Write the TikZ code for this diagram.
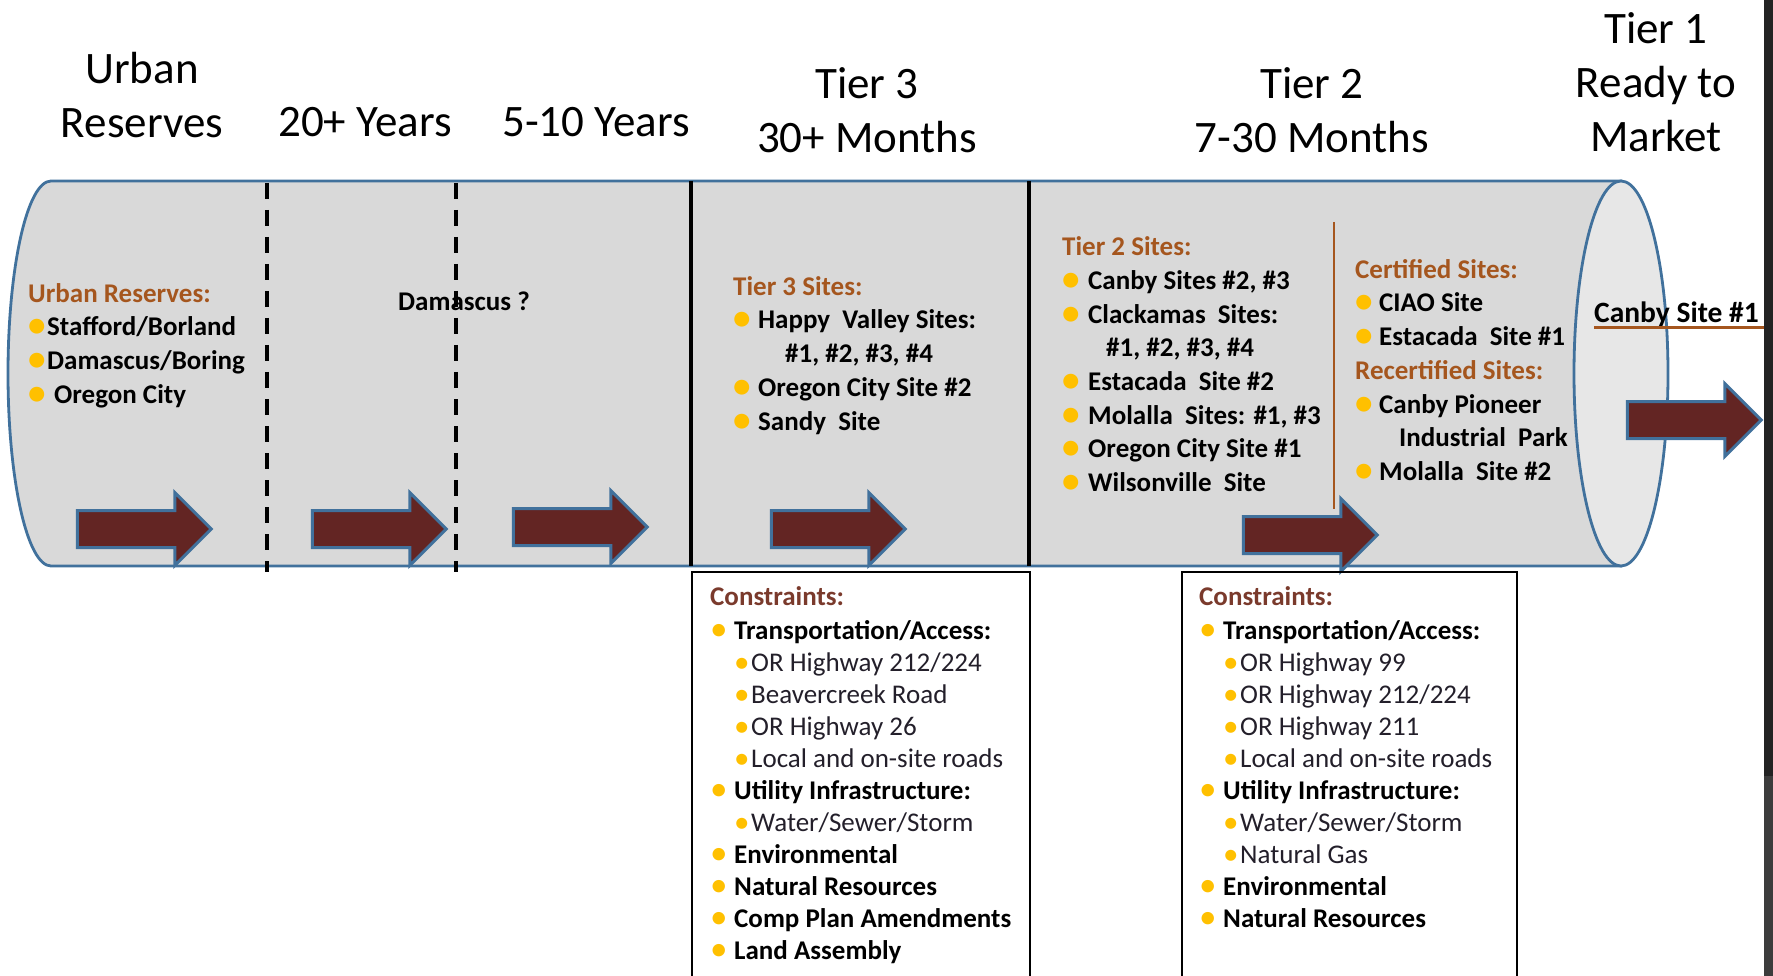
\documentclass[tikz,border=0pt]{standalone}
\usepackage{fontspec}
\usepackage{graphicx}
\setmainfont{Carlito}
\usetikzlibrary{shapes.arrows}
\usetikzlibrary{positioning}

\definecolor{cylfill}{HTML}{D9D9D9}
\definecolor{capfill}{HTML}{E7E7E7}
\definecolor{cylblue}{HTML}{41719C}
\definecolor{arrowred}{HTML}{632523}
\definecolor{headbrown}{HTML}{A5561E}
\definecolor{consbrown}{HTML}{7A3A2C}
\definecolor{dotgold}{HTML}{FFC000}
\definecolor{subtext}{HTML}{231F2A}
\definecolor{edgedark}{HTML}{232323}
\definecolor{edgegray}{HTML}{3C3C3C}

% gold bullet in a box of fixed width
\newcommand{\itm}[1][25pt]{\makebox[#1][l]{\raisebox{-1pt}{\scalebox{1.3}{\textcolor{dotgold}{\textbullet}}}}}
\newcommand{\subitm}{\hspace*{24pt}\makebox[17pt][l]{\raisebox{-0.5pt}{\scalebox{1.15}{\textcolor{dotgold}{\textbullet}}}}}

\begin{document}
\begin{tikzpicture}[x=1pt, y=-1pt]
\tikzset{
  cyl/.style={draw=cylblue, line width=2.8pt},
  divider/.style={line width=3.5pt},
  dashdiv/.style={line width=4pt, dash pattern=on 16pt off 11pt},
  blockarrow/.style={single arrow, draw=cylblue, fill=arrowred, line width=3pt,
    minimum height=134pt, inner xsep=0pt, inner ysep=17pt,
    single arrow head extend=18pt, single arrow tip angle=90},
  hdr/.style={font=\fontsize{45}{54}\selectfont, align=center, inner sep=0pt, anchor=north},
  sites/.style={font=\fontsize{27}{33.7}\selectfont\bfseries, align=left, inner sep=0pt, anchor=north west},
  cons/.style={font=\fontsize{27}{32}\selectfont, align=left, inner sep=0pt, anchor=north west},
  consbox/.style={draw, line width=1.3pt}
}
\useasboundingbox (0,0) rectangle (1773,976);
\clip (0,0) rectangle (1773,976);

%% the pipe
\draw[cyl, fill=cylfill] (51,181) -- (1621,181) -- (1621,566) -- (51,566)
  arc[start angle=90, end angle=270, x radius=43, y radius=192.5] -- cycle;
\foreach \x in {267,456} \draw[dashdiv] (\x,183) -- (\x,572);
\foreach \x in {691,1029} \draw[divider] (\x,181) -- (\x,566);
\draw[headbrown, line width=2.5pt] (1334,222) -- (1334,509);
\draw[cyl, fill=capfill] (1621,373.5) ellipse [x radius=47, y radius=192.5];

%% stage arrows
\node[blockarrow] (arr1) at (135,529) {};
\node[blockarrow] (arr2) at (370,529) {};
\node[blockarrow] (arr3) at (571,527) {};
\node[blockarrow] (arr4) at (829,529) {};
\node[blockarrow] (arr5) at (1301,535) {};
\node[blockarrow] (arr6) at (1685,420) {};

%% column headers
\node[hdr] (hUrban) at (142,45.5) {\strut Urban\\Reserves};
\node[hdr] (hTwenty) at (365,99) {\strut 20+ Years};
\node[hdr] (hFive) at (596,99) {\strut 5-10 Years};
\node[hdr] (hTier3) at (867,60.5) {\strut Tier 3\\30+ Months};
\node[hdr] (hTier2) at (1312,60.5) {\strut Tier 2\\7-30 Months};
\node[hdr] (hTier1) at (1656,6) {\strut Tier 1\\Ready to\\Market};

%% sites inside the pipe
\node[sites] (urban) at (28,278.5) {\strut\textcolor{headbrown}{Urban Reserves:}\\
  \itm[19pt]Stafford/Borland\\
  \itm[19pt]Damascus/Boring\\
  \itm[26pt]Oregon City};
\node[font=\fontsize{27}{33.7}\selectfont\bfseries, anchor=base, inner sep=0pt] (damascus) at (464,310.5) {Damascus ?};
\node[sites] (tier3) at (733,271.5) {\strut\textcolor{headbrown}{Tier 3 Sites:}\\
  \itm Happy~ Valley Sites:\\
  \hspace*{52pt}\#1, \#2, \#3, \#4\\
  \itm Oregon City Site \#2\\
  \itm Sandy~ Site};
\node[sites] (tier2) at (1062,232) {\strut\textcolor{headbrown}{Tier 2 Sites:}\\
  \itm[26pt]Canby Sites \#2, \#3\\
  \itm[26pt]Clackamas~ Sites:\\
  \hspace*{44pt}\#1, \#2, \#3, \#4\\
  \itm[26pt]Estacada~ Site \#2\\
  \itm[26pt]Molalla~ Sites: \#1, \#3\\
  \itm[26pt]Oregon City Site \#1\\
  \itm[26pt]Wilsonville~ Site};
\node[sites] (certified) at (1355,254.5) {\strut\textcolor{headbrown}{Certified Sites:}\\
  \itm[24pt]CIAO Site\\
  \itm[24pt]Estacada~ Site \#1\\
  \textcolor{headbrown}{Recertified Sites:}\\
  \itm[24pt]Canby Pioneer\\
  \hspace*{44pt}Industrial~ Park\\
  \itm[24pt]Molalla~ Site \#2};
\node[font=\fontsize{29.5}{33}\selectfont\bfseries, anchor=base west, inner sep=0pt] (canby) at (1594,323) {Canby Site \#1};
\draw[headbrown, line width=3pt] ([yshift=-5pt]canby.base west) -- ([yshift=-5pt, xshift=6pt]canby.base east);

%% constraint boxes under tiers 3 and 2
\draw[consbox] (692,572) rectangle (1030,990);
\draw[consbox] (1182,572) rectangle (1517,990);
\node[cons] (cons3) at (710,583) {\strut\textbf{\textcolor{consbrown}{Constraints:}}\\[2pt]
  \itm[24pt]\textbf{Transportation/Access:}\\
  \subitm\textcolor{subtext}{OR Highway 212/224}\\
  \subitm\textcolor{subtext}{Beavercreek Road}\\
  \subitm\textcolor{subtext}{OR Highway 26}\\
  \subitm\textcolor{subtext}{Local and on-site roads}\\
  \itm[24pt]\textbf{Utility Infrastructure:}\\
  \subitm\textcolor{subtext}{Water/Sewer/Storm}\\
  \itm[24pt]\textbf{Environmental}\\
  \itm[24pt]\textbf{Natural Resources}\\
  \itm[24pt]\textbf{Comp Plan Amendments}\\
  \itm[24pt]\textbf{Land Assembly}};
\node[cons] (cons2) at (1199,583) {\strut\textbf{\textcolor{consbrown}{Constraints:}}\\[2pt]
  \itm[24pt]\textbf{Transportation/Access:}\\
  \subitm\textcolor{subtext}{OR Highway 99}\\
  \subitm\textcolor{subtext}{OR Highway 212/224}\\
  \subitm\textcolor{subtext}{OR Highway 211}\\
  \subitm\textcolor{subtext}{Local and on-site roads}\\
  \itm[24pt]\textbf{Utility Infrastructure:}\\
  \subitm\textcolor{subtext}{Water/Sewer/Storm}\\
  \subitm\textcolor{subtext}{Natural Gas}\\
  \itm[24pt]\textbf{Environmental}\\
  \itm[24pt]\textbf{Natural Resources}};

%% dark strip on the right
\fill[edgedark] (1764,0) rectangle (1773,776);
\fill[edgegray] (1764,776) rectangle (1773,976);
\end{tikzpicture}
\end{document}
